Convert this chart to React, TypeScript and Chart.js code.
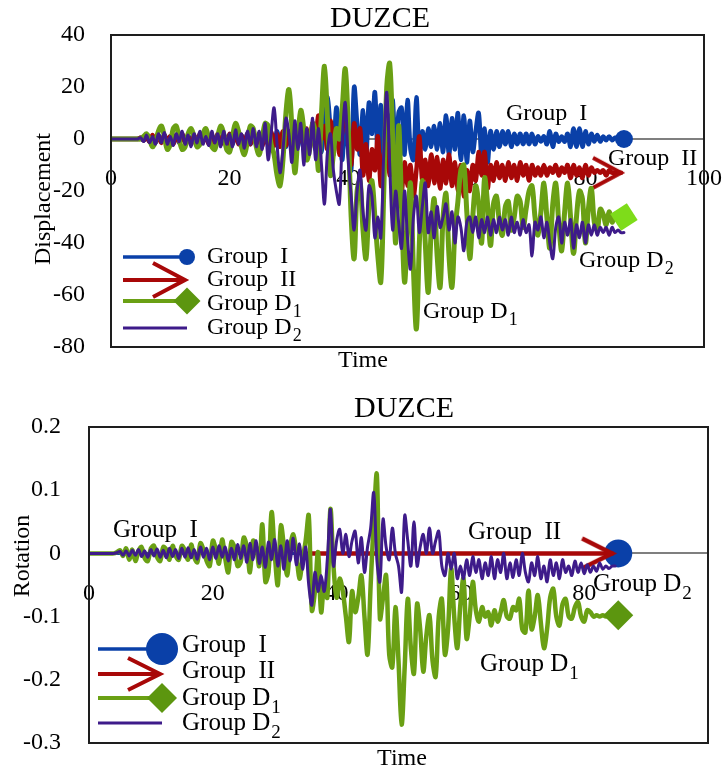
import React, { useEffect, useRef } from 'react';
import { Chart, registerables } from 'chart.js';

Chart.register(...registerables);

const FONT = '"Liberation Serif", "Times New Roman", serif';

// ---------- data ----------
const time = [
  0, 0.5, 1, 1.5, 2, 2.5, 3, 3.5, 4, 4.5,
  5, 5.5, 6, 6.5, 7, 7.5, 8, 8.5, 9, 9.5,
  10, 10.5, 11, 11.5, 12, 12.5, 13, 13.5, 14, 14.5,
  15, 15.5, 16, 16.5, 17, 17.5, 18, 18.5, 19, 19.5,
  20, 20.5, 21, 21.5, 22, 22.5, 23, 23.5, 24, 24.5,
  25, 25.5, 26, 26.5, 27, 27.5, 28, 28.5, 29, 29.5,
  30, 30.5, 31, 31.5, 32, 32.5, 33, 33.5, 34, 34.5,
  35, 35.5, 36, 36.5, 37, 37.5, 38, 38.5, 39, 39.5,
  40, 40.5, 41, 41.5, 42, 42.5, 43, 43.5, 44, 44.5,
  45, 45.5, 46, 46.5, 47, 47.5, 48, 48.5, 49, 49.5,
  50, 50.5, 51, 51.5, 52, 52.5, 53, 53.5, 54, 54.5,
  55, 55.5, 56, 56.5, 57, 57.5, 58, 58.5, 59, 59.5,
  60, 60.5, 61, 61.5, 62, 62.5, 63, 63.5, 64, 64.5,
  65, 65.5, 66, 66.5, 67, 67.5, 68, 68.5, 69, 69.5,
  70, 70.5, 71, 71.5, 72, 72.5, 73, 73.5, 74, 74.5,
  75, 75.5, 76, 76.5, 77, 77.5, 78, 78.5, 79, 79.5,
  80, 80.5, 81, 81.5, 82, 82.5, 83, 83.5, 84, 84.5,
  85, 85.5, 86, 86.5,
];

const seriesNames = ['Group  I', 'Group  II', 'Group D1', 'Group D2'];

const dispTimeTicks = [0, 20, 40, 60, 80, 100];
const dispTicks = [-80, -60, -40, -20, 0, 20, 40];
const rotTimeTicks = [0, 20, 40, 60, 80];
const rotTicks = [-0.3, -0.2, -0.1, 0, 0.1, 0.2];

// Displacement (top panel)
const dispGroupI = [
  0, 0, 0, 0, 0, 0, 0, 0, 0, 0,
  0.5, -0.5, 1, -1, 1, -1.5, 1.5, -1, 1.5, -1.5,
  1, -1, 1.5, -1.5, 1, -1, 1.5, -1.5, 1, -1,
  1.5, -1, 1, -1.5, 1.5, -1, 1, -1.5, 2, -1.5,
  1.5, -2, 2, -1.5, 1.5, -2, 2, -2, 2, -1.5,
  2, -2, 2.5, -2, 2.5, -2.5, 3, -2.5, 2.5, -3,
  3, -2.5, 3, -3, 3, -2, 2, -3, 5, -4,
  6, -5, 8, 16, 4, -6, 12, 2, -8, 10,
  -4, -12, 20, 6, -6, 11, -8, 14, 2, 18,
  -6, 13, -12, 10, -4, 15, -10, 10, 12, -6,
  15, -4, -8, 16, -6, 3, -4, 4, -3, 5,
  -4, 6, -5, 9, -6, 8, -4, 10, -8, 9,
  -9, 7, -5, 3, 10, -7, 4, -9, 3, -4,
  3, -3, 3, -2, 3, -3, 2, -2, 2, -2,
  2, -2, 2, -2, 1, -1, 1, -2, 3, -3,
  2, -1, 1, -1, 2, -3, 4, -3, 4, -3,
  3, -2, 2, -1, 1.5, -1, 1, -0.5, 1, -0.5,
  0.5, 0, 0, 0,
];

const dispGroupII = [
  0, 0, 0, 0, 0, 0, 0, 0, 0, 0,
  0.5, -0.5, 1, -1, 1.5, -1, 1, -1.5, 1.5, -1,
  1, -2, 1.5, -1, 2, -1.5, 1, -2, 1.5, -1.5,
  2, -1, 1.5, -2, 1, -1.5, 2, -2, 1.5, -2.5,
  2, -1.5, 2.5, -2, 1.5, -2.5, 2, -2, 2.5, -2,
  2, -3, 2.5, -2, 3, -2.5, 2, -3, 3, -2.5,
  3, -3, 4, -2, 5, -3, 4, -4, 6, 2,
  9, 0, 5, -4, 7, -2, 4, -6, 3, 15,
  2, -10, 6, -4, 4, -14, -2, -16, -4, -12,
  1, -18, -6, -2, -14, -4, -18, -8, -20, -9,
  -18, -10, -22, -12, 1, -16, -8, -18, -6, -17,
  -7, -19, -8, -17, -6, -18, -9, -20, -10, -22,
  -12, -20, -10, -16, -5, -14, -5, -19, -10, -16,
  -9, -15, -10, -16, -9, -15, -10, -16, -9, -14,
  -10, -16, -10, -14, -11, -14, -10, -14, -11, -13,
  -10, -14, -11, -13, -10, -15, -10, -14, -11, -15,
  -10, -14, -11, -13, -12, -13, -12, -14, -12, -13,
  -13, -13, -13,
];

const dispGroupD1 = [
  0, 0, 0, 0, 0, 0, 0, 0, 0, 0,
  0, 1, 2, 0, -3, -1, 3, 5, 1, -4,
  -2, 4, 5, 0, -4, -3, 2, 4, 1, -3,
  -2, 2, 4, 0, -3, -4, 1, 5, 2, -4,
  -5, 1, 6, 3, -3, -6, -1, 5, 4, -3,
  -6, 0, 6, 5, -2, -6, -14, -18, -8, 10,
  19, 5, -13, 0, 11, 4, -8, -4, 6, 2,
  -12, 10, 28, 8, -14, -6, 4, 0, 12, 27,
  5, -30, -46, -20, -16, -35, -46, -26, -16, -30,
  -45, -55, -20, 20, 29, 0, -40, 5, -25, -55,
  -35, -17, -50, -73, -40, -16, -40, -59, -35, -23,
  -45, -57, -30, -21, -45, -57, -35, -24, -12, -10,
  -28, -46, -30, -18, -25, -40, -15, -25, -41, -25,
  -22, -32, -37, -26, -24, -35, -30, -22, -24, -34,
  -27, -20, -18, -30, -37, -28, -17, -30, -42, -25,
  -17, -32, -43, -28, -17, -30, -44, -30, -20, -23,
  -40, -27, -19, -32, -35, -27, -29, -33, -28, -32,
  -29, -31, -30, -30,
];

const dispGroupD2 = [
  0, 0, 0, 0, 0, 0, 0, 0, 0, 0,
  0.5, -1, 1.5, -1.5, 1, -2, 2, -1.5, 2.5, -2,
  1, -2.5, 2, -1, 3, -2, 1.5, -3, 2, -1.5,
  3, -2, 1, -2.5, 3, -1.5, 2, -3, 3, -2,
  2, -3, 3.5, -2, 2, -3.5, 3, -2, 4, -3,
  3, -4, 6, -8, 2, 12, -2, -13, -4, 8,
  2, -9, 7, -4, 6, -10, 4, -6, 8, -8,
  4, -10, -25, -5, 2, -12, -20, -25, 0, 14,
  -8, -22, -35, -20, -12, -28, -35, -18, -22, -38,
  -30, -38, -5, 18, -10, -35, -20, -32, -42, -20,
  -38, -50, -30, -22, -36, -26, -17, -36, -28, -38,
  -26, -34, -30, -25, -35, -28, -40, -30, -34, -43,
  -32, -30, -36, -30, -38, -31, -36, -30, -37, -31,
  -36, -30, -35, -31, -37, -30, -36, -32, -37, -31,
  -36, -33, -45, -32, -35, -30, -38, -32, -40, -46,
  -34, -30, -40, -32, -37, -31, -42, -33, -38, -32,
  -40, -33, -37, -33, -37, -34, -36, -34, -37, -34,
  -36, -35, -36, -36,
];

// Rotation (bottom panel)
const rotGroupI = [
  0, 0, 0, 0, 0, 0, 0, 0, 0, 0,
  0, 0, 0, 0, 0, 0, 0, 0, 0, 0,
  0, 0, 0, 0, 0, 0, 0, 0, 0, 0,
  0, 0, 0, 0, 0, 0, 0, 0, 0, 0,
  0, 0, 0, 0, 0, 0, 0, 0, 0, 0,
  0, 0, 0, 0, 0, 0, 0, 0, 0, 0,
  0, 0, 0, 0, 0, 0, 0, 0, 0, 0,
  0, 0, 0, 0, 0, 0, 0, 0, 0, 0,
  0, 0, 0, 0, 0, 0, 0, 0, 0, 0,
  0, 0, 0, 0, 0, 0, 0, 0, 0, 0,
  0, 0, 0, 0, 0, 0, 0, 0, 0, 0,
  0, 0, 0, 0, 0, 0, 0, 0, 0, 0,
  0, 0, 0, 0, 0, 0, 0, 0, 0, 0,
  0, 0, 0, 0, 0, 0, 0, 0, 0, 0,
  0, 0, 0, 0, 0, 0, 0, 0, 0, 0,
  0, 0, 0, 0, 0, 0, 0, 0, 0, 0,
  0, 0, 0, 0, 0, 0, 0, 0, 0, 0,
  0, 0,
];

const rotGroupII = [
  null, null, null, null, null, null, null, null, null, null,
  null, null, null, null, null, null, null, null, null, null,
  null, null, null, null, null, null, null, null, null, null,
  null, null, null, null, null, null, null, null, null, null,
  null, null, null, null, null, null, null, null, null, null,
  null, null, null, null, null, null, null, null, null, null,
  null, null, null, null, null, null, null, null, null, null,
  null, 0, 0, 0, 0, 0, 0, 0, 0, 0,
  0, 0, 0, 0, 0, 0, 0, 0, 0, 0,
  0, 0, 0, 0, 0, 0, 0, 0, 0, 0,
  0, 0, 0, 0, 0, 0, 0, 0, 0, 0,
  0, 0, 0, 0, 0, 0, 0, 0, 0, 0,
  0, 0, 0, 0, 0, 0, 0, 0, 0, 0,
  0, 0, 0, 0, 0, 0, 0, 0, 0, 0,
  0, 0, 0, 0, 0, 0, 0, 0, 0, 0,
  0, 0, 0, 0, 0, 0, 0, 0, 0, 0,
  0, 0, 0, 0, 0, 0, 0, 0, 0, 0,
];

const rotGroupD1 = [
  0, 0, 0, 0, 0, 0, 0, 0, 0, 0.002,
  0.005, -0.004, 0.008, -0.01, 0.006, -0.012, 0.004, 0.01, -0.008, -0.012,
  0.008, 0.012, -0.006, -0.012, 0.01, 0.006, -0.01, 0.012, -0.004, -0.01,
  0.012, 0.004, -0.01, 0.014, -0.006, -0.014, 0.016, 0.006, -0.012, -0.02,
  0.02, 0.006, -0.016, 0.022, -0.008, -0.03, 0.018, 0.01, -0.02, -0.014,
  0.025, 0.01, -0.03, 0.02, 0.01, -0.02, 0.046, -0.045, -0.03, 0.065,
  0.0, -0.05, 0.044, 0.01, -0.035, 0.01, 0.03, 0.0, -0.04, -0.01,
  0.02, 0.06, -0.09, -0.06, 0.002, -0.093, -0.05, -0.07, 0.07, -0.02,
  -0.07, -0.04, -0.06, -0.1, -0.14, -0.06, -0.093, -0.07, -0.035, -0.1,
  -0.16, -0.05, 0.05, 0.125, -0.103, -0.07, -0.035, -0.16, -0.18, -0.085,
  -0.17, -0.271, -0.18, -0.072, -0.15, -0.19, -0.08, -0.12, -0.187, -0.13,
  -0.098, -0.17, -0.195, -0.1, -0.072, -0.16, -0.12, -0.024, -0.1, -0.15,
  -0.08, -0.04, -0.135, -0.1, -0.045, -0.09, -0.108, -0.085, -0.1, -0.093,
  -0.114, -0.09, -0.108, -0.093, -0.074, -0.1, -0.103, -0.085, -0.09, -0.072,
  -0.12, -0.125, -0.059, -0.12, -0.1, -0.066, -0.11, -0.15, -0.12, -0.07,
  -0.056, -0.1, -0.114, -0.08, -0.072, -0.1, -0.103, -0.085, -0.077, -0.1,
  -0.108, -0.09, -0.093, -0.1, -0.098, -0.1, -0.098, -0.1, -0.098, -0.1,
  -0.098, -0.098,
];

const rotGroupD2 = [
  0, 0, 0, 0, 0, 0, 0, 0, 0, 0.001,
  0.003, -0.003, 0.004, -0.004, 0.005, -0.003, 0.006, -0.005, 0.004, -0.006,
  0.006, -0.004, 0.007, -0.006, 0.005, -0.007, 0.008, -0.005, 0.006, -0.008,
  0.008, -0.006, 0.009, -0.007, 0.006, -0.009, 0.01, -0.006, 0.008, -0.01,
  0.01, -0.008, 0.012, -0.006, 0.01, -0.012, 0.008, -0.01, 0.014, -0.008,
  0.012, -0.014, 0.016, -0.01, 0.02, -0.016, 0.01, -0.022, 0.018, -0.01,
  0.022, -0.02, 0.012, -0.025, 0.02, -0.012, 0.024, -0.018, 0.015, -0.025,
  0.01, -0.05, -0.082, -0.03, -0.06, -0.035, -0.06, -0.01, 0.07, -0.02,
  0.02, 0.038, 0.0, 0.03, -0.005, 0.02, 0.035, -0.015, 0.025, -0.03,
  0.01, 0.04, 0.096, -0.01, -0.045, 0.054, 0.01, -0.01, 0.04, 0.0,
  -0.02, -0.061, 0.06, 0.02, -0.02, 0.05, -0.02, 0.01, 0.03, 0.0,
  0.04, 0.0, 0.02, 0.035, -0.02, -0.035, 0.0, -0.025, 0.0, -0.04,
  -0.02, -0.04, -0.01, -0.035, -0.005, -0.03, -0.01, -0.04, -0.015, -0.035,
  -0.005, -0.04, -0.01, -0.03, 0.0, -0.04, -0.015, -0.038, -0.01, -0.035,
  0.0, -0.03, -0.045, -0.015, -0.035, -0.005, -0.04, -0.02, -0.045, -0.01,
  -0.035, -0.015, -0.04, -0.01, -0.03, -0.02, -0.035, -0.012, -0.03, -0.015,
  -0.032, -0.018, -0.03, -0.02, -0.028, -0.015, -0.025, -0.02, -0.024, -0.02,
  -0.02,
];

// ---------- styles ----------
const BLUE = '#0a40a8';
const RED = '#a80808';
const GREEN = '#6aa014';
const DGREEN = '#5c960f';
const LIME = '#7edc1a';
const PURPLE = '#3e1b8a';

function makeChevron(color: string, len: number, half: number, lw: number) {
  const c = document.createElement('canvas');
  const w = Math.ceil(2 * len + 2 * lw + 8);
  const h = Math.ceil(2 * half + 2 * lw + 8);
  c.width = w;
  c.height = h;
  const g = c.getContext('2d')!;
  const cx = w / 2;
  const cy = h / 2;
  g.strokeStyle = color;
  g.lineWidth = lw;
  g.lineJoin = 'miter';
  g.lineCap = 'butt';
  g.beginPath();
  g.moveTo(cx - len, cy - half);
  g.lineTo(cx, cy);
  g.lineTo(cx - len, cy + half);
  g.stroke();
  return c;
}

function drawLabel(ctx: CanvasRenderingContext2D, text: string, x: number, base: number, size: number) {
  ctx.fillStyle = '#000';
  ctx.textBaseline = 'alphabetic';
  ctx.textAlign = 'left';
  ctx.font = `${size}px ${FONT}`;
  const m = text.match(/^(.*D)(\d)$/);
  if (m) {
    ctx.fillText(m[1], x, base);
    const w = ctx.measureText(m[1]).width;
    ctx.font = `${Math.round(size * 0.76)}px ${FONT}`;
    ctx.fillText(m[2], x + w + 1, base + size * 0.3);
  } else {
    ctx.fillText(text, x, base);
  }
}

function drawMarker(ctx: CanvasRenderingContext2D, mk: any, x: number, y: number, color: string) {
  if (mk.kind === 'circle') {
    ctx.fillStyle = mk.fill;
    ctx.beginPath();
    ctx.arc(x, y, mk.r, 0, Math.PI * 2);
    ctx.fill();
  } else if (mk.kind === 'diamond') {
    ctx.fillStyle = mk.fill;
    ctx.beginPath();
    ctx.moveTo(x - mk.r, y);
    ctx.lineTo(x, y - mk.r);
    ctx.lineTo(x + mk.r, y);
    ctx.lineTo(x, y + mk.r);
    ctx.closePath();
    ctx.fill();
  } else if (mk.kind === 'chevron') {
    const img = makeChevron(color, mk.len, mk.half, mk.lw);
    ctx.drawImage(img, mk.tipX - img.width / 2, y - img.height / 2);
  }
}

const TOP = {
  w: 723,
  h: 380,
  top: 0,
  padding: { top: 35, left: 0, right: 19, bottom: 33 },
  yWidth: 111,
  yMin: -80,
  yMax: 40,
  yTicks: dispTicks,
  yPad: 26,
  xTicks: dispTimeTicks,
  xPad: 27,
  tickSize: 24,
  title: { text: 'DUZCE', x: 380, y: 27 },
  xTitle: { text: 'Time', x: 363, y: 367 },
  yTitle: { text: 'Displacement', x: 50, y: 199 },
  series: [
    { data: dispGroupI, color: BLUE, width: 4.5, order: 4, marker: { kind: 'circle', r: 9, fill: BLUE } },
    { data: dispGroupII, color: RED, width: 4.5, order: 3, marker: { kind: 'chevron', len: 28, half: 15, lw: 4, r: 10 } },
    { data: dispGroupD1, color: GREEN, width: 5, order: 2, marker: { kind: 'diamond', r: 14, fill: LIME, rot: 12 } },
    { data: dispGroupD2, color: PURPLE, width: 3, order: 1, marker: { kind: 'none' } },
  ],
  legend: {
    x0: 123,
    x1: 187,
    textX: 207,
    size: 24,
    rows: [[257, 263], [280, 286], [301, 310], [328, 334]],
    widths: [3.5, 4, 4, 3],
    markers: [
      { kind: 'circle', r: 8, fill: BLUE },
      { kind: 'chevron', len: 32, half: 17, lw: 4, tipX: 185 },
      { kind: 'diamond', r: 13.5, fill: DGREEN },
      { kind: 'none' },
    ],
  },
  notes: [
    { i: 0, x: 506, base: 120 },
    { i: 1, x: 608, base: 165 },
    { i: 3, x: 579, base: 267 },
    { i: 2, x: 423, base: 318 },
  ],
  noteSize: 24,
};

const BOTTOM = {
  w: 723,
  h: 389,
  top: 385,
  padding: { top: 42, left: 0, right: 14, bottom: 31 },
  yWidth: 89,
  yMin: -0.3,
  yMax: 0.2,
  yTicks: rotTicks,
  yPad: 28,
  xTicks: rotTimeTicks,
  xPad: 27,
  tickSize: 24,
  title: { text: 'DUZCE', x: 404, y: 32 },
  xTitle: { text: 'Time', x: 402, y: 380 },
  yTitle: { text: 'Rotation', x: 29, y: 171 },
  series: [
    { data: rotGroupI, color: BLUE, width: 3, order: 4, marker: { kind: 'circle', r: 14, fill: BLUE } },
    { data: rotGroupII, color: RED, width: 4.5, order: 3, marker: { kind: 'chevron', len: 30, half: 15, lw: 4.5, r: 10 } },
    { data: rotGroupD1, color: GREEN, width: 4.5, order: 2, marker: { kind: 'diamond', r: 15, fill: DGREEN, rot: 0 } },
    { data: rotGroupD2, color: PURPLE, width: 3, order: 1, marker: { kind: 'none' } },
  ],
  legend: {
    x0: 98,
    x1: 162,
    textX: 182,
    size: 25,
    rows: [[264, 267], [289, 293], [313, 320], [338, 345]],
    widths: [3.5, 4, 4, 3],
    markers: [
      { kind: 'circle', r: 16, fill: BLUE },
      { kind: 'chevron', len: 32, half: 16, lw: 4, tipX: 160 },
      { kind: 'diamond', r: 15, fill: DGREEN },
      { kind: 'none' },
    ],
  },
  notes: [
    { i: 0, x: 113, base: 152 },
    { i: 1, x: 468, base: 154 },
    { i: 3, x: 593, base: 206 },
    { i: 2, x: 480, base: 286 },
  ],
  noteSize: 25,
};

function framePlugin(spec: any) {
  return {
    id: 'frameAndText',
    afterDraw(chart: any) {
      const { ctx, chartArea: a } = chart;
      ctx.save();
      ctx.strokeStyle = '#1e1e1e';
      ctx.lineWidth = 2;
      ctx.strokeRect(a.left, a.top, a.right - a.left, a.bottom - a.top);

      ctx.fillStyle = '#000';
      ctx.textBaseline = 'alphabetic';
      ctx.textAlign = 'center';
      ctx.font = `30px ${FONT}`;
      ctx.fillText(spec.title.text, spec.title.x, spec.title.y);
      ctx.font = `24px ${FONT}`;
      ctx.fillText(spec.xTitle.text, spec.xTitle.x, spec.xTitle.y);
      ctx.save();
      ctx.translate(spec.yTitle.x, spec.yTitle.y);
      ctx.rotate(-Math.PI / 2);
      ctx.fillText(spec.yTitle.text, 0, 0);
      ctx.restore();

      const lg = spec.legend;
      chart.data.datasets.forEach((ds: any, i: number) => {
        const [ly, base] = lg.rows[i];
        ctx.strokeStyle = ds.borderColor;
        ctx.lineWidth = lg.widths[i];
        ctx.lineCap = 'butt';
        ctx.beginPath();
        ctx.moveTo(lg.x0, ly);
        ctx.lineTo(lg.markers[i].kind === 'chevron' ? lg.markers[i].tipX : lg.x1, ly);
        ctx.stroke();
        drawMarker(ctx, lg.markers[i], lg.x1, ly, ds.borderColor);
        drawLabel(ctx, ds.label, lg.textX, base, lg.size);
      });

      spec.notes.forEach((n: any) => {
        drawLabel(ctx, chart.data.datasets[n.i].label, n.x, n.base, spec.noteSize);
      });
      ctx.restore();
    },
  };
}

function buildPanel(canvas: HTMLCanvasElement, spec: any) {
  const datasets = spec.series.map((s: any, i: number) => {
    const mk = s.marker;
    const style = mk.kind === 'chevron' ? makeChevron(s.color, mk.len, mk.half, mk.lw) : mk.kind === 'diamond' ? 'rectRot' : 'circle';
    const lastIndex = s.data.length - 1;
    return {
      label: seriesNames[i],
      data: s.data,
      borderColor: s.color,
      backgroundColor: s.color,
      borderWidth: s.width,
      tension: 0.35,
      fill: false,
      order: s.order,
      spanGaps: false,
      borderJoinStyle: 'round',
      borderCapStyle: 'round',
      pointStyle: style,
      pointRadius: (ctx: any) => (mk.kind !== 'none' && ctx.dataIndex === lastIndex ? mk.r : 0),
      pointHoverRadius: 0,
      pointHitRadius: 0,
      pointBackgroundColor: mk.fill || s.color,
      pointBorderColor: mk.fill || s.color,
      pointBorderWidth: 0,
      pointRotation: mk.rot || 0,
    };
  });

  const tickFont = { family: FONT, size: spec.tickSize, lineHeight: 1.1 };

  return new Chart(canvas, {
    type: 'line',
    data: { labels: time, datasets },
    options: {
      animation: false,
      responsive: false,
      devicePixelRatio: 1,
      events: [],
      layout: { padding: spec.padding },
      plugins: {
        legend: { display: false },
        tooltip: { enabled: false },
        title: { display: false },
      },
      scales: {
        x: {
          type: 'linear',
          min: 0,
          max: 100,
          position: { y: 0 },
          grid: { display: false, drawTicks: false },
          border: { display: true, color: '#7f7f7f', width: 2 },
          ticks: {
            font: tickFont,
            color: '#000',
            padding: spec.xPad,
            autoSkip: false,
            maxRotation: 0,
            callback: (v: any) => String(v),
          },
          afterBuildTicks: (axis: any) => {
            axis.ticks = spec.xTicks.map((value: number) => ({ value }));
          },
          afterFit: (axis: any) => {
            axis.paddingLeft = 0;
            axis.paddingRight = 0;
          },
        },
        y: {
          type: 'linear',
          min: spec.yMin,
          max: spec.yMax,
          position: 'left',
          grid: { display: false, drawTicks: false },
          border: { display: false },
          ticks: {
            font: tickFont,
            color: '#000',
            padding: spec.yPad,
            autoSkip: false,
            callback: (v: any) => String(v),
          },
          afterBuildTicks: (axis: any) => {
            axis.ticks = spec.yTicks.map((value: number) => ({ value }));
          },
          afterFit: (axis: any) => {
            axis.width = spec.yWidth;
            axis.paddingTop = 0;
            axis.paddingBottom = 0;
          },
        },
      },
    } as any,
    plugins: [framePlugin(spec)],
  } as any);
}

export default function App() {
  const topRef = useRef<HTMLCanvasElement>(null);
  const botRef = useRef<HTMLCanvasElement>(null);

  useEffect(() => {
    const charts = [buildPanel(topRef.current!, TOP), buildPanel(botRef.current!, BOTTOM)];
    return () => charts.forEach((c) => c.destroy());
  }, []);

  return (
    <div style={{ position: 'fixed', left: 0, top: 0, width: 723, height: 774, background: '#fff', overflow: 'hidden' }}>
      <canvas
        ref={topRef}
        width={TOP.w}
        height={TOP.h}
        style={{ position: 'absolute', left: 0, top: TOP.top, width: TOP.w, height: TOP.h }}
      />
      <canvas
        ref={botRef}
        width={BOTTOM.w}
        height={BOTTOM.h}
        style={{ position: 'absolute', left: 0, top: BOTTOM.top, width: BOTTOM.w, height: BOTTOM.h }}
      />
    </div>
  );
}
